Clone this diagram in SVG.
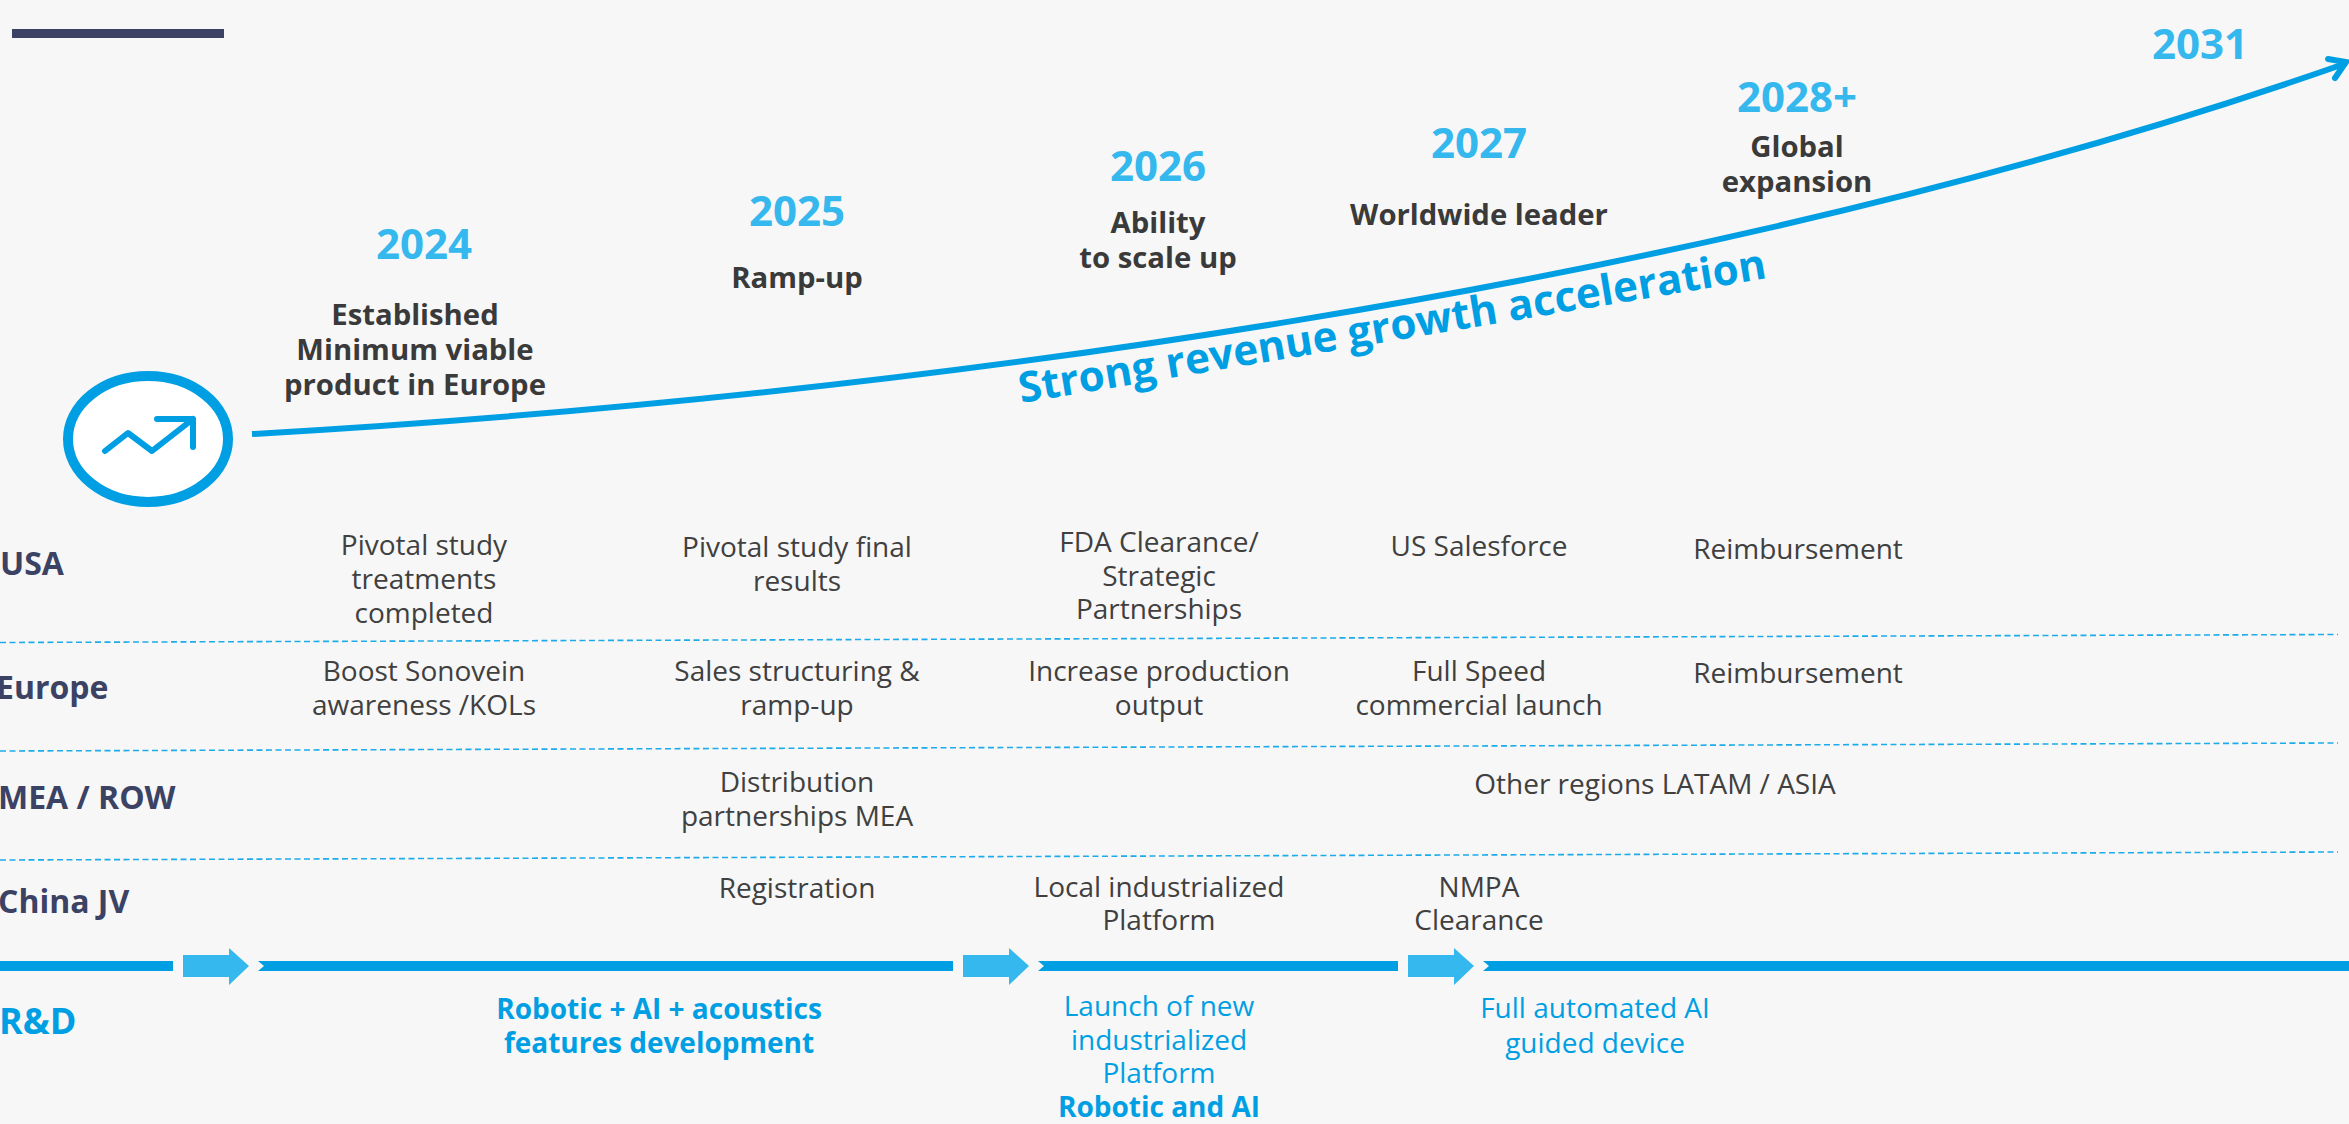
<svg xmlns="http://www.w3.org/2000/svg" width="2349" height="1124" viewBox="0 0 2349 1124">
<style>
text{font-family:"Open Sans","Noto Sans","Liberation Sans",sans-serif;text-anchor:middle}
.y{font-size:42px;font-weight:700;fill:#35b8ed}
.h{font-size:29.300px;font-weight:700;fill:#3a3a3a}
.b{font-size:28px;fill:#404040}
.r{font-size:32px;font-weight:700;fill:#3b4263;text-anchor:start}
.c{font-size:28px;fill:#009fe3}
.cb{font-size:28px;font-weight:700;fill:#009fe3}
.d{stroke:#1dace9;stroke-width:1.600;stroke-dasharray:6 3.500;fill:none}
.t{fill:#009fe3}
.a{fill:#35b8ed}
</style>
<rect width="2349" height="1124" fill="#f7f7f7"/>
<rect id="topbar" x="12" y="29" width="212" height="9" fill="#3b4263"/>
<g id="connectors">
<path d="M252 434C900 397 1700 290 2344 64" fill="none" stroke="#009fe3" stroke-width="6"/>
<path d="M2328 59L2346 62L2335 78" fill="none" stroke="#009fe3" stroke-width="6" stroke-linecap="round"/>
<path class="d" d="M0 642.500L2338 634.500"/>
<path class="d" d="M0 751L2338 743"/>
<path class="d" d="M0 860L2338 852"/>
<path class="t" d="M0 961H173V971H0Z"/>
<path class="t" d="M258 961L264 966L258 971H953V961Z"/>
<path class="t" d="M1038 961L1044 966L1038 971H1398V961Z"/>
<path class="t" d="M1483 961L1489 966L1483 971H2349V961Z"/>
<path id="a1" class="a" d="M183 955H229V948L249 966L229 985V977H183Z"/>
<path id="a2" class="a" d="M963 955H1009V948L1029 966L1009 985V977H963Z"/>
<path id="a3" class="a" d="M1408 955H1454V948L1474 966L1454 985V977H1408Z"/>
</g>
<g id="icon">
<ellipse cx="148" cy="439" rx="80" ry="63" fill="#fff" stroke="#009fe3" stroke-width="10"/>
<path d="M105 451L128 433L152 451L193 419M157 419H193V447" fill="none" stroke="#009fe3" stroke-width="6" stroke-linecap="round" stroke-linejoin="round"/>
</g>
<g id="y2024"><text class="y" x="424" y="259">2024</text>
<text class="h"><tspan x="415" y="325">Established</tspan><tspan x="415" y="360">Minimum viable</tspan><tspan x="415" y="395">product in Europe</tspan></text></g>
<g id="y2025"><text class="y" x="797" y="226">2025</text><text class="h" x="797" y="288">Ramp-up</text></g>
<g id="y2026"><text class="y" x="1158" y="181">2026</text>
<text class="h"><tspan x="1158" y="233">Ability</tspan><tspan x="1158" y="268">to scale up</tspan></text></g>
<g id="y2027"><text class="y" x="1479" y="158">2027</text><text class="h" x="1479" y="225">Worldwide leader</text></g>
<g id="y2028"><text class="y" x="1797" y="112">2028+</text>
<text class="h"><tspan x="1797" y="157">Global</tspan><tspan x="1797" y="192">expansion</tspan></text></g>
<g id="y2031"><text class="y" x="2200" y="59">2031</text></g>
<text transform="translate(1021 403) rotate(-9.500)" style="text-anchor:start" font-size="42.200" font-weight="700" fill="#009fe3">Strong revenue growth acceleration</text>
<g id="usa"><text class="r" x="0" y="575">USA</text>
<text class="b"><tspan x="424" y="555">Pivotal study</tspan><tspan x="424" y="589">treatments</tspan><tspan x="424" y="623">completed</tspan></text>
<text class="b"><tspan x="797" y="557">Pivotal study final</tspan><tspan x="797" y="591">results</tspan></text>
<text class="b"><tspan x="1159" y="552">FDA Clearance/</tspan><tspan x="1159" y="586">Strategic</tspan><tspan x="1159" y="619">Partnerships</tspan></text>
<text class="b" x="1479" y="556">US Salesforce</text>
<text class="b" x="1798" y="559">Reimbursement</text></g>
<g id="europe"><text class="r" x="-4" y="699">Europe</text>
<text class="b"><tspan x="424" y="681">Boost Sonovein</tspan><tspan x="424" y="715">awareness /KOLs</tspan></text>
<text class="b"><tspan x="797" y="681">Sales structuring &amp;</tspan><tspan x="797" y="715">ramp-up</tspan></text>
<text class="b"><tspan x="1159" y="681">Increase production</tspan><tspan x="1159" y="715">output</tspan></text>
<text class="b"><tspan x="1479" y="681">Full Speed</tspan><tspan x="1479" y="715">commercial launch</tspan></text>
<text class="b" x="1798" y="683">Reimbursement</text></g>
<g id="mea"><text class="r" x="-2" y="809">MEA / ROW</text>
<text class="b"><tspan x="797" y="792">Distribution</tspan><tspan x="797" y="826">partnerships MEA</tspan></text>
<text class="b" x="1655" y="794">Other regions LATAM / ASIA</text></g>
<g id="china"><text class="r" x="-2" y="913">China JV</text>
<text class="b" x="797" y="898">Registration</text>
<text class="b"><tspan x="1159" y="897">Local industrialized</tspan><tspan x="1159" y="930">Platform</tspan></text>
<text class="b"><tspan x="1479" y="897">NMPA</tspan><tspan x="1479" y="930">Clearance</tspan></text></g>
<g id="rd"><text class="r" style="fill:#009fe3;font-size:36px" x="-1" y="1034">R&amp;D</text>
<text class="cb"><tspan x="659" y="1019">Robotic + AI + acoustics</tspan><tspan x="659" y="1053">features development</tspan></text>
<text class="c"><tspan x="1159" y="1016">Launch of new</tspan><tspan x="1159" y="1050">industrialized</tspan><tspan x="1159" y="1083">Platform</tspan></text>
<text class="cb" x="1159" y="1117">Robotic and AI</text>
<text class="c"><tspan x="1595" y="1018">Full automated AI</tspan><tspan x="1595" y="1053">guided device</tspan></text></g>
</svg>
